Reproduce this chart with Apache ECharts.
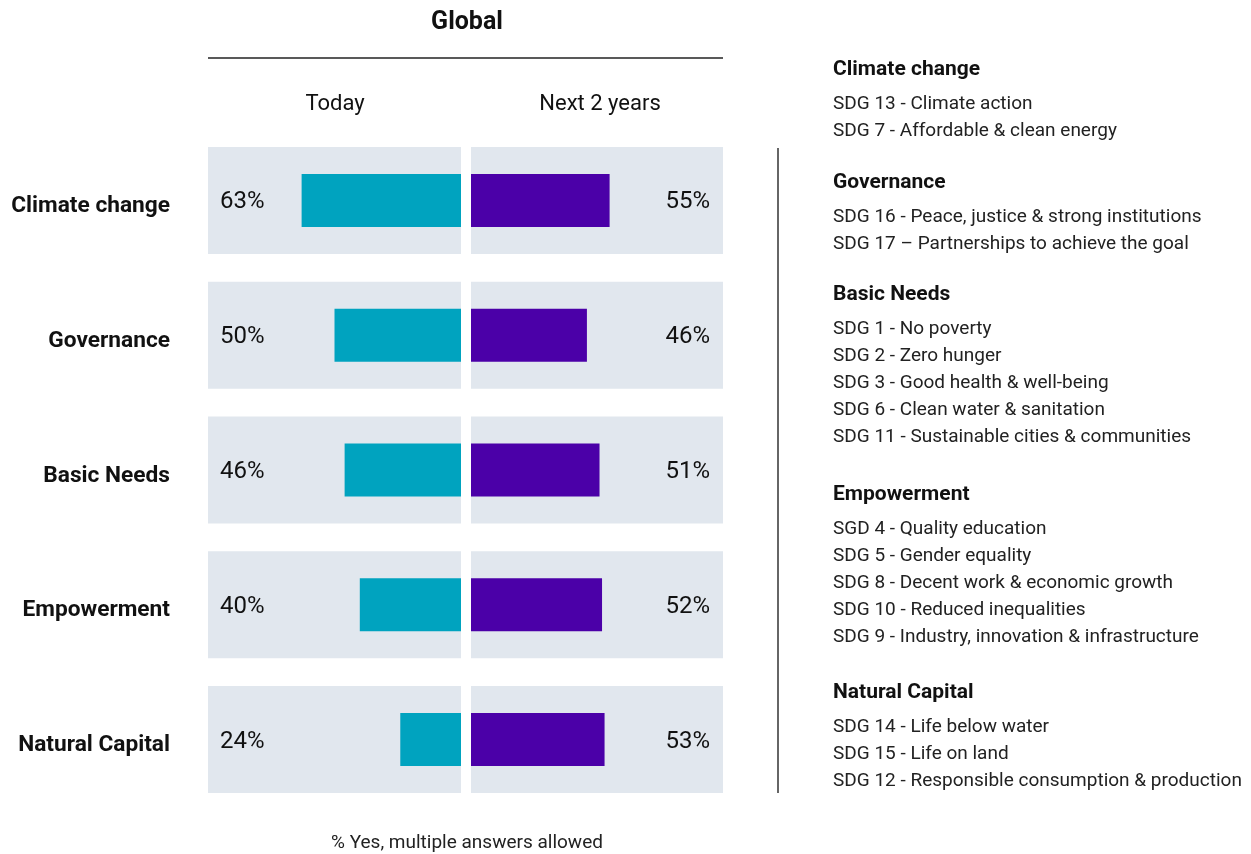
<!DOCTYPE html>
<html>
<head>
<meta charset="utf-8">
<title>Global</title>
<script src="https://cdn.jsdelivr.net/npm/echarts@6/dist/echarts.min.js"></script>
<style>
  html, body { margin: 0; padding: 0; background: #fff; }
  #chart { width: 1251px; height: 854px; }
</style>
</head>
<body>
<div id="chart"></div>
<script>
// data
const categories = ['Climate change', 'Governance', 'Basic Needs', 'Empowerment', 'Natural Capital']
const today = [63, 50, 46, 40, 24]
const next2Years = [55, 46, 51, 52, 53]
const fullScale = [100, 100, 100, 100, 100]

const groupTitles = ['Climate change', 'Governance', 'Basic Needs', 'Empowerment', 'Natural Capital']
const groupItems = [
  ['SDG 13 - Climate action', 'SDG 7 - Affordable & clean energy'],
  ['SDG 16 - Peace, justice & strong institutions', 'SDG 17 \u2013 Partnerships to achieve the goal'],
  ['SDG 1 - No poverty', 'SDG 2 - Zero hunger', 'SDG 3 - Good health & well-being', 'SDG 6 - Clean water & sanitation', 'SDG 11 - Sustainable cities & communities'],
  ['SGD 4 - Quality education', 'SDG 5 - Gender equality', 'SDG 8 - Decent work & economic growth', 'SDG 10 - Reduced inequalities', 'SDG 9 - Industry, innovation & infrastructure'],
  ['SDG 14 - Life below water', 'SDG 15 - Life on land', 'SDG 12 - Responsible consumption & production']
]

// layout
const FONT = 'Roboto, "Noto Sans", sans-serif'
const TXT = '#111'
const TEAL = '#00A3BF'
const PURPLE = '#4B00A8'
const BG = '#E1E7EE'
const headingY = [70, 183, 295, 495, 693]

const chart = echarts.init(document.getElementById('chart'))

function txt(text, x, y, font, align, color) {
  return { type: 'text', style: { text, x, y, textAlign: align || 'left', textVerticalAlign: 'middle', font: font + ' ' + FONT, fill: color || TXT } }
}

const graphics = [
  txt('Global', 467, 23, 'bold 25px', 'center'),
  { type: 'line', shape: { x1: 208, y1: 58, x2: 723, y2: 58 }, style: { stroke: '#222', lineWidth: 1.5 } },
  txt('Today', 335, 104, '22px', 'center'),
  txt('Next 2 years', 600, 104, '22px', 'center'),
  { type: 'line', shape: { x1: 778, y1: 148, x2: 778, y2: 793 }, style: { stroke: '#333', lineWidth: 1.5 } },
  txt('% Yes, multiple answers allowed', 467, 843, '19px', 'center', '#222')
]

groupTitles.forEach((t, i) => {
  const y0 = headingY[i]
  graphics.push(txt(t, 833, y0, 'bold 21px'))
  groupItems[i].forEach((s, j) => {
    graphics.push(txt(s, 833, y0 + 34 + j * 27, '19px', 'left', '#222'))
  })
})

const catAxis = (grid, showLabel) => ({
  type: 'category', gridIndex: grid, data: categories, inverse: true, show: showLabel,
  axisLine: { show: false }, axisTick: { show: false }, splitLine: { show: false },
  axisLabel: {
    show: showLabel, margin: 38,
    formatter: (v) => '{c|' + v + '}',
    rich: { c: { color: TXT, fontSize: 22.7, fontWeight: 'bold', fontFamily: FONT, padding: [12, 0, 0, 0] } }
  }
})
const pctLabel = (arr, pos, dist) => ({
  show: true, position: pos, distance: dist, offset: [0, 2], color: TXT, fontSize: 24, fontFamily: FONT,
  formatter: (p) => arr[p.dataIndex] + '%'
})

chart.setOption({
  animation: false,
  grid: [
    { left: 208, top: 133, width: 253, height: 674 },
    { left: 471, top: 133, width: 252, height: 674 }
  ],
  xAxis: [
    { type: 'value', gridIndex: 0, min: 0, max: 100, inverse: true, show: false },
    { type: 'value', gridIndex: 1, min: 0, max: 100, show: false }
  ],
  yAxis: [
    catAxis(0, true),
    catAxis(0, false),
    catAxis(1, false),
    catAxis(1, false)
  ],
  series: [
    { type: 'bar', xAxisIndex: 0, yAxisIndex: 1, data: fullScale, barWidth: 107, silent: true,
      itemStyle: { color: BG }, label: pctLabel(today, 'insideLeft', 12) },
    { type: 'bar', xAxisIndex: 1, yAxisIndex: 3, data: fullScale, barWidth: 107, silent: true,
      itemStyle: { color: BG }, label: pctLabel(next2Years, 'insideRight', 13) },
    { type: 'bar', name: 'Today', xAxisIndex: 0, yAxisIndex: 0, data: today, barWidth: 53,
      itemStyle: { color: TEAL } },
    { type: 'bar', name: 'Next 2 years', xAxisIndex: 1, yAxisIndex: 2, data: next2Years, barWidth: 53,
      itemStyle: { color: PURPLE } }
  ],
  graphic: graphics
})
</script>
</body>
</html>
